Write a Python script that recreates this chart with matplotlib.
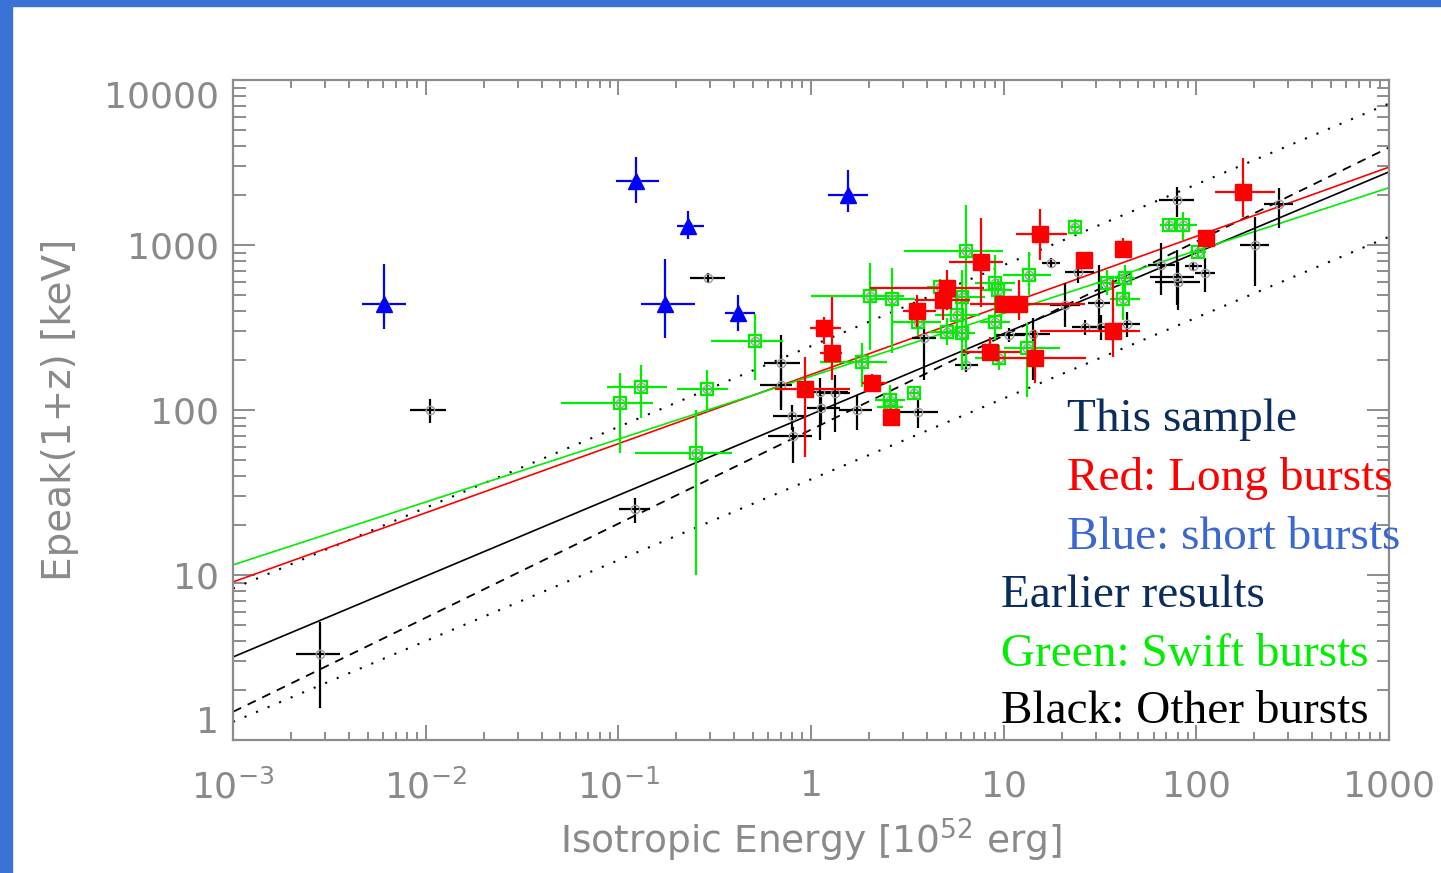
import numpy as np
import matplotlib
matplotlib.use("Agg")
import matplotlib.pyplot as plt
from matplotlib.patches import Rectangle
from matplotlib.ticker import FixedLocator, FixedFormatter, LogLocator, NullFormatter

# ---------------------------------------------------------------------------
# Burst samples: isotropic energy [1e52 erg] and Epeak(1+z) [keV],
# with lower / upper ends of the error bars.
# ---------------------------------------------------------------------------
short_E = [0.0061, 0.124, 0.230, 0.175, 0.418, 1.56]
short_E_lo = [0.0047, 0.097, 0.2015, 0.131, 0.358, 1.23]
short_E_hi = [0.0079, 0.163, 0.279, 0.250, 0.512, 1.98]
short_Ep = [439, 2440, 1300, 439, 387, 2010]
short_Ep_lo = [310, 1800, 1090, 273, 301, 1590]
short_Ep_hi = [767, 3420, 1610, 822, 498, 2850]

long_E = [15.4, 7.62, 5.08, 4.84, 3.55, 1.17, 1.29, 0.931, 2.07, 2.6,
          8.49, 9.92, 12.0, 14.6, 26.1, 41.6, 36.9, 112, 175]
long_E_lo = [11.6, 5.2, 2.02, 3.47, 3.0, 0.988, 1.11, 0.65, 1.84, 2.36,
             6.08, 9.02, 6.69, 9.46, 24.9, 39.1, 15.4, 104.5, 125]
long_E_hi = [21.3, 9.92, 7.9, 6.69, 4.45, 1.43, 1.45, 1.59, 2.48, 2.83,
             12.2, 10.8, 26.4, 26.7, 27.4, 44.3, 51, 120, 256]
long_Ep = [1166, 789, 549, 464, 398, 314, 221, 134, 146, 91,
           225, 439, 439, 207, 811, 946, 301, 1102, 2096]
long_Ep_lo = [811, 421, 404, 351, 318, 251, 152, 52, 129, 81,
              201, 393, 351, 146, 736, 834, 210, 1012, 1479]
long_Ep_hi = [1652, 1457, 705, 614, 498, 366, 484, 210, 165, 100,
              277, 491, 614, 305, 907, 1102, 614, 1199, 3367]

swift_E = [0.102, 0.131, 0.288, 0.512, 0.253, 2.02, 2.63, 1.84, 6.37, 3.59,
           3.43, 2.57, 2.6, 6.08, 5.73, 6.08, 5.08, 9.02, 9.35, 9.02,
           13.5, 9.46, 13.2, 23.4, 42.6, 41.6, 34.4, 72.1, 85.3, 102, 4.67]
swift_E_lo = [0.0503, 0.0874, 0.2015, 0.303, 0.122, 1.0, 2.02, 1.11, 3.04, 2.67,
              3.19, 2.15, 2.2, 4.67, 4.4, 4.96, 4.1, 7.1, 7.5, 7.54,
              9.92, 7.1, 10.1, 21.6, 37.8, 35.6, 30.4, 64.7, 75.7, 92.7, 4.0]
swift_E_hi = [0.151, 0.179, 0.371, 0.716, 0.389, 3.04, 3.47, 2.48, 9.92, 4.73,
              3.68, 3.07, 3.0, 8.0, 7.54, 7.1, 5.9, 11.45, 11.0, 10.8,
              17.6, 12.9, 19.6, 25.5, 48.0, 51, 40, 80.3, 101, 112, 5.4]
swift_Ep = [110, 138, 134, 262, 55, 491, 471, 196, 920, 342,
            127, 115, 104, 484, 377, 293, 297, 589, 534, 342,
            658, 207, 238, 1285, 631, 471, 589, 1322, 1322, 907, 557]
swift_Ep_lo = [55, 89.5, 97, 152, 10, 231, 221, 138, 182, 285,
               115, 87, 81, 351, 266, 175, 248, 404, 450, 266,
               498, 175, 120, 1150, 464, 351, 498, 1199, 1071, 834, 500]
swift_Ep_hi = [168, 187, 175, 382, 100, 778, 726, 255, 1750, 433,
               140, 142, 123, 705, 534, 404, 361, 869, 620, 433,
               907, 248, 337, 1437, 756, 614, 705, 1457, 1585, 986, 620]

other_E = [0.0105, 0.292, 0.00283, 0.122, 0.698, 0.70, 0.797, 0.806, 1.11, 1.13,
           1.33, 1.73, 3.59, 3.86, 6.37, 10.7, 14.2, 17.6, 24.3, 20.8,
           31.2, 26.4, 32.0, 43.7, 65.6, 79.4, 80.3, 96.1, 111, 79.4,
           201, 268]
other_E_lo = [0.0083, 0.236, 0.00212, 0.101, 0.570, 0.543, 0.635, 0.598, 0.964, 0.95,
              1.12, 1.40, 2.80, 3.34, 5.59, 9.0, 11.5, 15.8, 20.8, 17.4,
              27.4, 22.6, 28.1, 37.8, 56.1, 57.4, 61, 87.3, 98.4, 64,
              169, 224]
other_E_hi = [0.0128, 0.358, 0.00359, 0.146, 0.877, 0.797, 0.931, 1.01, 1.56, 1.41,
              1.59, 2.07, 4.56, 4.45, 7.36, 12.9, 17.4, 19.6, 29.4, 24.9,
              35.6, 31.6, 37.8, 51, 77.5, 97.2, 104, 107, 125, 97.2,
              238, 318]
other_Ep = [100, 631, 3.3, 25, 193, 142, 92, 70, 129, 103,
            127, 100, 97, 273, 188, 285, 289, 778, 686, 433,
            445, 318, 318, 332, 756, 640, 597, 746, 677, 1875,
            1000, 1770]
other_Ep_lo = [83, 589, 1.56, 20.7, 104, 100, 76, 48, 66, 81,
               74, 76, 78, 152, 170, 258, 152, 726, 589, 319,
               305, 285, 266, 277, 498, 433, 404, 705, 519, 1480,
               564, 1270]
other_Ep_hi = [117, 677, 5.2, 29.3, 285, 215, 107, 79, 156, 123,
               163, 123, 118, 393, 207, 314, 361, 834, 789, 589,
               756, 351, 377, 393, 1030, 933, 789, 789, 834, 2250,
               1480, 2215]

# Power-law relations Epeak = A * E^b
fit_names = ["all", "earlier", "lower", "upper", "long", "swift"]
fit_amp = [94, 76, 38, 244, 164, 160]
fit_slope = [0.49, 0.57, 0.49, 0.49, 0.419, 0.381]

x_ticks = [1e-3, 1e-2, 1e-1, 1, 10, 100, 1000]
x_tick_labels = [r"$10^{-3}$", r"$10^{-2}$", r"$10^{-1}$", "1", "10", "100", "1000"]
y_ticks = [1, 10, 100, 1000, 10000]
y_tick_labels = ["1", "10", "100", "1000", "10000"]

# ---------------------------------------------------------------------------
W, H = 1441, 873
fig = plt.figure(figsize=(W / 100, H / 100), dpi=100)
fig.patch.set_facecolor("white")

frame_blue = "#3973d6"
fig.patches.append(Rectangle((0, 1 - 6 / H), 1, 6 / H, transform=fig.transFigure,
                             color=frame_blue, zorder=0))
fig.patches.append(Rectangle((0, 0), 12 / W, 1, transform=fig.transFigure,
                             color=frame_blue, zorder=0))

ax = fig.add_axes([233 / W, 1 - 740 / H, 1156 / W, 660 / H])
ax.set_xscale("log")
ax.set_yscale("log")
ax.set_xlim(1e-3, 1e3)
ax.set_ylim(1, 1e4)

axis_grey = "#8c8c8c"
label_grey = "#8a8a8a"
for sp in ax.spines.values():
    sp.set_color(axis_grey)
    sp.set_linewidth(1.6)

ax.xaxis.set_major_locator(FixedLocator(x_ticks))
ax.xaxis.set_major_formatter(FixedFormatter(x_tick_labels))
ax.yaxis.set_major_locator(FixedLocator(y_ticks))
ax.yaxis.set_major_formatter(FixedFormatter(y_tick_labels))
ax.xaxis.set_minor_locator(LogLocator(base=10, subs=np.arange(2, 10), numticks=20))
ax.yaxis.set_minor_locator(LogLocator(base=10, subs=np.arange(2, 10), numticks=20))
ax.xaxis.set_minor_formatter(NullFormatter())
ax.yaxis.set_minor_formatter(NullFormatter())

ax.tick_params(which="both", direction="in", top=True, right=True,
               color=axis_grey, width=1.4, labelcolor=label_grey)
ax.tick_params(axis="x", which="major", length=11, pad=21, labelsize=26)
ax.tick_params(axis="x", which="minor", length=6)
ax.tick_params(axis="y", which="major", length=16, pad=10, labelsize=26)
ax.tick_params(axis="y", which="minor", length=9)

ax.set_xlabel(r"Isotropic Energy [10$^{52}$ erg]", fontsize=27, color=label_grey, labelpad=8)
ax.set_ylabel("Epeak(1+z) [keV]", fontsize=28, color=label_grey, labelpad=18)

# relation lines
xx = np.logspace(-3, 3, 200)
fit_style = {
    "all": dict(color="black", lw=1.2, ls="-"),
    "earlier": dict(color="black", lw=1.3, ls=(0, (5, 4))),
    "lower": dict(color="black", lw=1.5, ls=(0, (1, 5))),
    "upper": dict(color="black", lw=1.5, ls=(0, (1, 5))),
    "long": dict(color="#ff0000", lw=1.2, ls="-"),
    "swift": dict(color="#00ee00", lw=1.2, ls="-"),
}
for name, a, b in zip(fit_names, fit_amp, fit_slope):
    ax.plot(xx, a * xx ** b, zorder=2, **fit_style[name])


def draw_group(E, E_lo, E_hi, Ep, Ep_lo, Ep_hi, color, z):
    E = np.asarray(E, float)
    Ep = np.asarray(Ep, float)
    xerr = [E - np.asarray(E_lo, float), np.asarray(E_hi, float) - E]
    yerr = [Ep - np.asarray(Ep_lo, float), np.asarray(Ep_hi, float) - Ep]
    ax.errorbar(E, Ep, xerr=xerr, yerr=yerr, fmt="none", ecolor=color,
                elinewidth=1.6, capsize=0, zorder=z)
    ax.plot(E, Ep, "o", ms=6, mfc="none", mec="#9a9a9a", mew=1.0, zorder=z + 0.1)
    return E, Ep


draw_group(other_E, other_E_lo, other_E_hi, other_Ep, other_Ep_lo, other_Ep_hi, "black", 3)
E, Ep = draw_group(swift_E, swift_E_lo, swift_E_hi, swift_Ep, swift_Ep_lo, swift_Ep_hi,
                   "#00ee00", 4)
ax.plot(E, Ep, "s", ms=9, mfc="none", mec="#00ee00", mew=1.6, zorder=4.2)
E, Ep = draw_group(long_E, long_E_lo, long_E_hi, long_Ep, long_Ep_lo, long_Ep_hi,
                   "#ff0000", 5)
ax.plot(E, Ep, "s", ms=11, mfc="#ff0000", mec="#ff0000", zorder=5.2)
E, Ep = draw_group(short_E, short_E_lo, short_E_hi, short_Ep, short_Ep_lo, short_Ep_hi,
                   "#0000ff", 6)
ax.plot(E, Ep, "^", ms=11, mfc="#0000ff", mec="#0000ff", zorder=6.2)

# key text block
navy = "#0b2c5f"
key_lines = [
    ("This sample", navy, 1067, 431),
    ("Red: Long bursts", "#ff0000", 1067, 490),
    ("Blue: short bursts", "#3a68d0", 1067, 549),
    ("Earlier results", navy, 1001, 607),
    ("Green: Swift bursts", "#00ee00", 1001, 666),
    ("Black: Other bursts", "black", 1001, 723),
]
for txt, col, px, py in key_lines:
    fig.text(px / W, 1 - py / H, txt, color=col, fontsize=34,
             family="Liberation Serif", va="baseline", ha="left", zorder=10)

# keep the end labels of the energy-peak axis inside the frame
fig.canvas.draw()
for lbl in ax.get_yticklabels():
    if lbl.get_text() == y_tick_labels[-1]:
        lbl.set_verticalalignment("top")
    elif lbl.get_text() == y_tick_labels[0]:
        lbl.set_verticalalignment("bottom")

fig.savefig("out.png", dpi=100, facecolor="white")
